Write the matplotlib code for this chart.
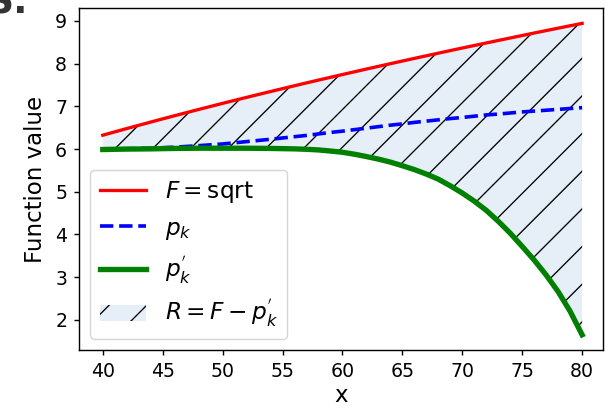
import matplotlib
matplotlib.use('Agg')
import matplotlib.pyplot as plt

# values
x = [40, 42, 44, 46, 48, 50, 52, 54, 56, 57, 58, 59, 60, 61, 62, 63, 64, 65, 66, 67,
     68, 69, 70, 71, 72, 73, 74, 75, 76, 77, 78, 79, 80]
f_sqrt = [6.325, 6.481, 6.633, 6.782, 6.928, 7.071, 7.211, 7.348, 7.483, 7.550,
          7.616, 7.681, 7.746, 7.810, 7.874, 7.937, 8.000, 8.062, 8.124, 8.185,
          8.246, 8.307, 8.367, 8.426, 8.485, 8.544, 8.602, 8.660, 8.718, 8.775,
          8.832, 8.888, 8.944]
p_k = [6.00, 6.008, 6.02, 6.045, 6.08, 6.12, 6.175, 6.23, 6.29, 6.32,
       6.355, 6.39, 6.42, 6.455, 6.49, 6.525, 6.56, 6.59, 6.625, 6.655,
       6.685, 6.715, 6.74, 6.77, 6.80, 6.82, 6.845, 6.87, 6.89, 6.91,
       6.93, 6.95, 6.97]
p_k_prime = [5.99, 6.00, 6.005, 6.015, 6.02, 6.02, 6.02, 6.015, 6.005, 5.995,
             5.98, 5.955, 5.925, 5.88, 5.825, 5.765, 5.695, 5.61, 5.52, 5.415,
             5.295, 5.14, 4.97, 4.78, 4.565, 4.31, 4.03, 3.72, 3.40, 3.05,
             2.66, 2.20, 1.65]

DPI = 226
plt.rcParams['hatch.linewidth'] = 0.42
plt.rcParams['hatch.color'] = 'black'
plt.rcParams['axes.linewidth'] = 0.45
plt.rcParams['xtick.major.width'] = 0.45
plt.rcParams['ytick.major.width'] = 0.45
plt.rcParams['xtick.major.size'] = 1.6
plt.rcParams['ytick.major.size'] = 1.6
plt.rcParams['xtick.major.pad'] = 2.1
plt.rcParams['ytick.major.pad'] = 2.1

fig = plt.figure(figsize=(605 / DPI, 407 / DPI), dpi=DPI)
ax = fig.add_axes([78.8 / 605, 1 - 350.4 / 407, (602.5 - 78.8) / 605, (350.4 - 7.8) / 407])

ax.plot(x, f_sqrt, color='red', lw=1.05, label=r'$F = \mathrm{sqrt}$')
ax.plot(x, p_k, color='blue', lw=1.15, ls='--', label=r'$p_k$')
ax.plot(x, p_k_prime, color='green', lw=1.7, label=r"$p_k^{'}$")
ax.fill_between(x, f_sqrt, p_k_prime, facecolor='#e6eef7', edgecolor='black',
                linewidth=0, hatch='//', label=r"$R = F - p_k^{'}$")

ax.set_xlim(38, 81.7)
ax.set_xticks([40, 45, 50, 55, 60, 65, 70, 75, 80])
ax.set_yticks([2, 3, 4, 5, 6, 7, 8, 9])
ax.tick_params(labelsize=6.0)
ax.set_xlabel('x', fontsize=7.3, labelpad=0.8)
ax.set_ylabel('Function value', fontsize=7.3, labelpad=2.5)

leg = ax.legend(loc='lower left', fontsize=7.4)
leg.get_frame().set_linewidth(0.45)

fig.text(28 / 605, 1 - 13 / 407, 'S.', ha='right', va='baseline',
         fontsize=12, fontweight='bold', color='#333333')

fig.savefig('out.png', dpi=DPI)
